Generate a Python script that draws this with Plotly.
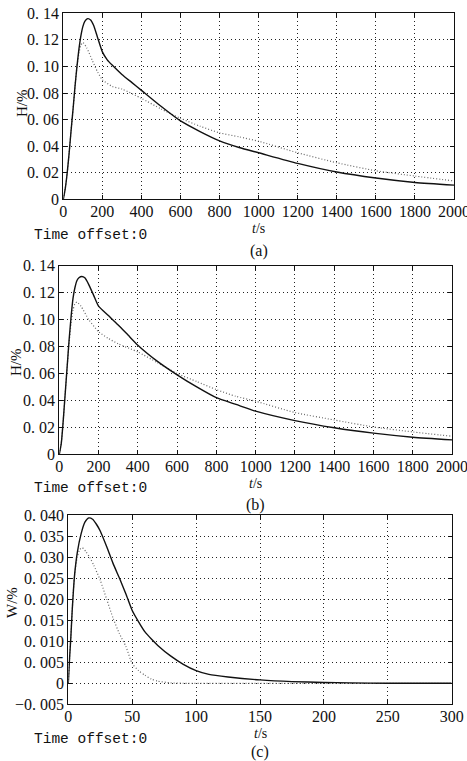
import plotly.graph_objects as go

W, H = 467, 761

# ---------------- data ----------------
# panel (a)
ta_solid = [0, 10, 20, 30, 40, 50, 60, 70, 80, 90, 100, 110, 125, 140, 155, 175, 200, 225, 250, 300, 350, 400,
            500, 600, 700, 800, 900, 1000, 1200, 1400, 1600, 1800, 2000]
ha_solid = [0, 0.008, 0.020, 0.035, 0.052, 0.068, 0.085, 0.100, 0.113, 0.123, 0.130, 0.134, 0.136, 0.135,
            0.131, 0.122, 0.111, 0.105, 0.101, 0.094, 0.088, 0.082, 0.070, 0.059, 0.051, 0.044, 0.039,
            0.035, 0.027, 0.0205, 0.016, 0.0127, 0.0107]
ta_dot = [0, 10, 20, 30, 40, 50, 60, 70, 80, 90, 100, 120, 150, 175, 200, 250, 300, 400, 500, 600, 700,
          800, 900, 1000, 1200, 1400, 1600, 1800, 2000]
ha_dot = [0, 0.008, 0.020, 0.035, 0.052, 0.068, 0.085, 0.100, 0.110, 0.116, 0.118, 0.114, 0.104, 0.096,
          0.090, 0.085, 0.083, 0.076, 0.068, 0.061, 0.055, 0.050, 0.047, 0.0437, 0.035, 0.0275, 0.0215,
          0.0175, 0.0138]

# panel (b)
tb_solid = [0, 10, 20, 30, 40, 50, 60, 70, 80, 90, 100, 115, 130, 150, 175, 200, 250, 300, 350, 400, 500,
            600, 700, 800, 900, 1000, 1200, 1400, 1600, 1800, 2000]
hb_solid = [0, 0.008, 0.025, 0.045, 0.065, 0.085, 0.102, 0.116, 0.124, 0.129, 0.131, 0.132, 0.131, 0.126,
            0.118, 0.110, 0.103, 0.096, 0.0885, 0.081, 0.069, 0.059, 0.050, 0.042, 0.037, 0.032, 0.025,
            0.0197, 0.0157, 0.0127, 0.0107]
tb_dot = [0, 10, 20, 30, 40, 50, 60, 70, 80, 90, 110, 150, 200, 250, 300, 400, 500, 600, 700, 800, 900,
          1000, 1200, 1400, 1600, 1800, 2000]
hb_dot = [0, 0.008, 0.025, 0.045, 0.065, 0.083, 0.097, 0.107, 0.112, 0.113, 0.110, 0.100, 0.091, 0.086,
          0.082, 0.076, 0.068, 0.060, 0.054, 0.048, 0.043, 0.0394, 0.031, 0.0255, 0.0203, 0.0166, 0.0134]

# panel (c)
tc_solid = [0, 1, 2, 3, 4, 5, 7, 10, 13, 16, 19, 22, 25, 30, 35, 40, 45, 50, 55, 60, 65, 70, 80, 90, 100,
            110, 125, 150, 175, 200, 220, 250, 300]
wc_solid = [0, 0.006, 0.011, 0.017, 0.022, 0.026, 0.031, 0.0355, 0.0383, 0.0393, 0.0390, 0.0378, 0.0362,
            0.0325, 0.0285, 0.0250, 0.0213, 0.0173, 0.0146, 0.0122, 0.0105, 0.0090, 0.0065, 0.0045, 0.0030,
            0.0021, 0.0015, 0.0008, 0.0004, 0.0002, 0.0001, 0, 0]
tc_dot = [0, 1, 2, 3, 4, 5, 7, 9, 11, 14, 17, 20, 25, 30, 35, 40, 45, 50, 55, 60, 65, 70, 80, 90, 300]
wc_dot = [0, 0.006, 0.011, 0.017, 0.022, 0.026, 0.030, 0.0318, 0.0322, 0.0312, 0.0298, 0.0280, 0.0245,
          0.0200, 0.0155, 0.0118, 0.0088, 0.0047, 0.0030, 0.0019, 0.0010, 0.0005, 0.0001, 0, 0]

# tick labels
x_ticks_ab = [0, 200, 400, 600, 800, 1000, 1200, 1400, 1600, 1800, 2000]
y_ticks_ab = [0, 0.02, 0.04, 0.06, 0.08, 0.10, 0.12, 0.14]
y_text_ab = ["0", "0. 02", "0. 04", "0. 06", "0. 08", "0. 10", "0. 12", "0. 14"]
x_ticks_c = [0, 50, 100, 150, 200, 250, 300]
y_ticks_c = [-0.005, 0, 0.005, 0.010, 0.015, 0.020, 0.025, 0.030, 0.035, 0.040]
y_text_c = ["\u22120. 005", "0", "0. 005", "0. 010", "0. 015", "0. 020", "0. 025", "0. 030", "0. 035", "0. 040"]

y_titles = ["H/%", "H/%", "W/%"]
captions = ["(a)", "(b)", "(c)"]
offset_text = "Time offset:0"
x_title = "<i>t</i>/s"

# ---------------- layout geometry (pixels) ----------------
frames = [  # left, right, top, bottom
    (63.3, 454.0, 13.3, 199.3),
    (59.3, 452.0, 265.7, 454.3),
    (68.3, 451.7, 515.0, 704.3),
]

def px(x):
    return x / W

def py(y):
    return 1 - y / H

fig = go.Figure()

solid_style = dict(color="#111111", width=1.4, shape="spline", smoothing=0.6)
dot_style = dict(color="#6a6a6a", width=1.2, dash="1px,2px", shape="spline", smoothing=0.6)

series = [
    (ta_solid, ha_solid, ta_dot, ha_dot),
    (tb_solid, hb_solid, tb_dot, hb_dot),
    (tc_solid, wc_solid, tc_dot, wc_dot),
]
for i, (ts, hs, td, hd) in enumerate(series):
    sfx = "" if i == 0 else str(i + 1)
    fig.add_trace(go.Scatter(x=td, y=hd, mode="lines", line=dot_style, xaxis="x" + sfx, yaxis="y" + sfx,
                             showlegend=False, hoverinfo="skip"))
    fig.add_trace(go.Scatter(x=ts, y=hs, mode="lines", line=solid_style, xaxis="x" + sfx, yaxis="y" + sfx,
                             showlegend=False, hoverinfo="skip"))

tick_font = dict(family="Liberation Serif", size=16, color="#111111")
common_axis = dict(
    showline=True, linecolor="#111111", linewidth=1.3, mirror="ticks",
    ticks="inside", ticklen=4, tickcolor="#111111", tickwidth=1,
    showgrid=True, gridcolor="#222222", griddash="1px,3px", gridwidth=1,
    zeroline=False, tickfont=tick_font, automargin=False, ticklabeloverflow="allow",
)

layout = dict(
    width=W, height=H, margin=dict(l=0, r=0, t=0, b=0, autoexpand=False),
    paper_bgcolor="white", plot_bgcolor="white", showlegend=False,
)

xranges = [[0, 2000], [0, 2000], [0, 300]]
yranges = [[0, 0.14], [0, 0.14], [-0.005, 0.040]]
xticks = [x_ticks_ab, x_ticks_ab, x_ticks_c]
yticks = [(y_ticks_ab, y_text_ab), (y_ticks_ab, y_text_ab), (y_ticks_c, y_text_c)]

for i, (l, r, t, b) in enumerate(frames):
    sfx = "" if i == 0 else str(i + 1)
    layout["xaxis" + sfx] = dict(
        common_axis, domain=[px(l), px(r)], range=xranges[i], anchor="y" + sfx,
        tickmode="array", tickvals=xticks[i], ticktext=[str(v) for v in xticks[i]],
        ticklabelstandoff=-3,
    )
    layout["yaxis" + sfx] = dict(
        common_axis, domain=[py(b), py(t)], range=yranges[i], anchor="x" + sfx,
        tickmode="array", tickvals=yticks[i][0], ticktext=yticks[i][1],
        ticklabelstandoff=0,
    )

fig.update_layout(**layout)

# annotations
ann_pos = [
    # ytitle x, ytitle y, t/s y, offset y, caption y
    dict(ytx=22, yty=103, tsy=228, offy=235, capy=251),
    dict(ytx=16, yty=362, tsy=483, offy=488, capy=505),
    dict(ytx=12, yty=603, tsy=733, offy=739, capy=752),
]
for i, (l, r, t, b) in enumerate(frames):
    a = ann_pos[i]
    cx = (l + r) / 2
    fig.add_annotation(x=px(a["ytx"]), y=py(a["yty"]), xref="paper", yref="paper", text=y_titles[i],
                       textangle=-90, showarrow=False, xanchor="center", yanchor="middle",
                       font=dict(family="Liberation Serif", size=15, color="#111111"))
    fig.add_annotation(x=px(cx), y=py(a["tsy"]), xref="paper", yref="paper", text=x_title,
                       showarrow=False, xanchor="center", yanchor="middle",
                       font=dict(family="Liberation Serif", size=14, color="#111111"))
    fig.add_annotation(x=px(32), y=py(a["offy"]), xref="paper", yref="paper", text=offset_text,
                       showarrow=False, xanchor="left", yanchor="middle",
                       font=dict(family="Liberation Mono", size=14.5, color="#111111"))
    fig.add_annotation(x=px(cx), y=py(a["capy"]), xref="paper", yref="paper", text=captions[i],
                       showarrow=False, xanchor="center", yanchor="middle",
                       font=dict(family="Liberation Serif", size=16, color="#111111"))

fig.write_html(
    "out.html",
    config={"displayModeBar": False},
    post_script="document.body.style.margin='0';document.body.style.overflow='hidden';",
)
